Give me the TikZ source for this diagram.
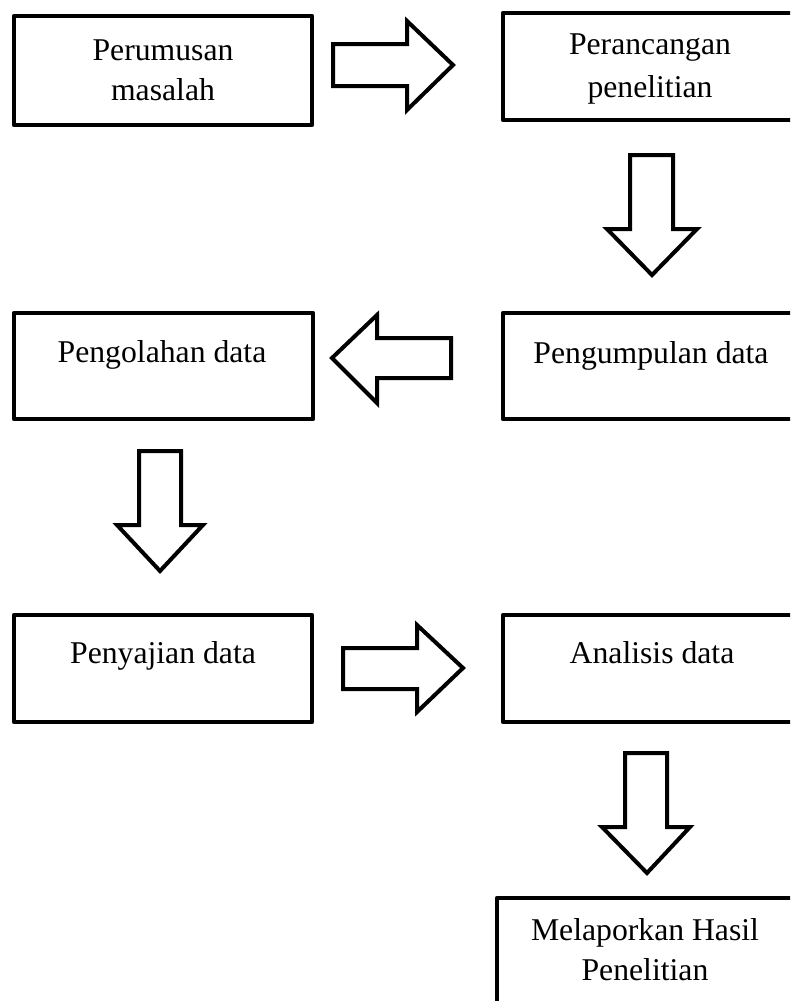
\documentclass[tikz,border=0pt]{standalone}
\usepackage{fontspec}
\setmainfont{Liberation Serif}
\begin{document}
\begin{tikzpicture}[x=1pt,y=-1pt,
  boxstyle/.style={draw=black,line width=4.5pt,line join=round},
  blockarrow/.style={draw=black,fill=white,line width=4pt,line join=miter},
  label/.style={anchor=base,inner sep=0pt,font=\fontsize{31.7}{40}\selectfont}]
\useasboundingbox (0,0) rectangle (790,1001);
\clip (0,0) rectangle (790,1001);
\fill[white] (0,0) rectangle (790,1001);
% boxes
\draw[boxstyle] (14,16) rectangle (312,125) coordinate (b1);
\draw[boxstyle] (503,13) rectangle (797,120);
\draw[boxstyle] (503,313) rectangle (797,419);
\draw[boxstyle] (14,313) rectangle (313,419);
\draw[boxstyle] (14,615) rectangle (312,722);
\draw[boxstyle] (503,615) rectangle (797,722);
\draw[boxstyle] (497,898) rectangle (793,1012);
% texts
\node[label] (t1a) at (163,60) {Perumusan};
\node[label] (t1b) at (163,100) {masalah};
\node[label] (t2a) at (650,54) {Perancangan};
\node[label] (t2b) at (650,97) {penelitian};
\node[label] (t3) at (651,363) {Pengumpulan data};
\node[label] (t4) at (162,362) {Pengolahan data};
\node[label] (t5) at (163,663) {Penyajian data};
\node[label] (t6) at (652,663) {Analisis data};
\node[label] (t7a) at (645,940) {Melaporkan Hasil};
\node[label] (t7b) at (645,980) {Penelitian};
% block arrows
\draw[blockarrow] (333,44) -- (407,44) -- (407,21) -- (453,65) -- (407,110) -- (407,86) -- (333,86) -- cycle;
\draw[blockarrow] (630,155) -- (673,155) -- (673,229) -- (697,229) -- (652,275) -- (607,229) -- (630,229) -- cycle;
\draw[blockarrow] (451,338) -- (377,338) -- (377,315) -- (332,358) -- (377,403) -- (377,378) -- (451,378) -- cycle;
\draw[blockarrow] (139,451) -- (181,451) -- (181,525) -- (203,525) -- (160,571) -- (117,525) -- (139,525) -- cycle;
\draw[blockarrow] (343,648) -- (417,648) -- (417,625) -- (463,668) -- (417,712) -- (417,689) -- (343,689) -- cycle;
\draw[blockarrow] (625,753) -- (667,753) -- (667,827) -- (690,827) -- (647,873) -- (602,827) -- (625,827) -- cycle;
\end{tikzpicture}
\end{document}
